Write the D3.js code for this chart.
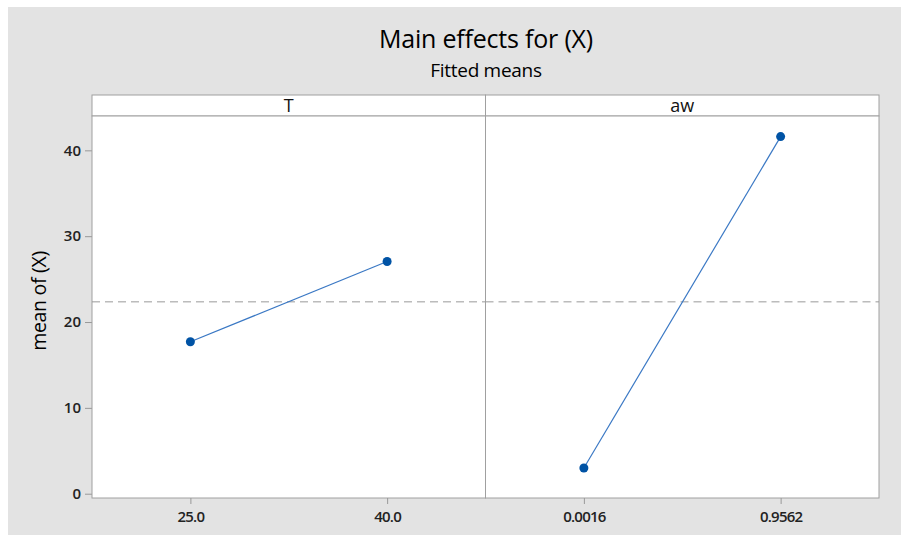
<!DOCTYPE html>
<html>
<head>
<meta charset="utf-8">
<script src="https://cdn.jsdelivr.net/npm/d3@7"></script>
<style>
  html, body { margin: 0; padding: 0; background: #fff; }
  svg { display: block; font-family: "Open Sans", "Noto Sans", sans-serif; }
</style>
</head>
<body>
<svg id="chart" width="901" height="535"></svg>
<script>
// data
var factors = ['T', 'aw'];
var levels = [['25.0', '40.0'], ['0.0016', '0.9562']];
var means = [[17.7, 27.05], [3.0, 41.6]];
var grandMean = 22.35;
var yTicks = [0, 10, 20, 30, 40];

var svg = d3.select('#chart');
var left = 92, right = 879;
var headTop = 95, plotTop = 116, plotBottom = 498;
var panelW = (right - left) / factors.length;

// gray page with a thin white edge top / left
svg.append('rect')
    .attr('x', 8).attr('y', 7)
    .attr('width', 893).attr('height', 528)
    .attr('fill', '#e3e3e3');

svg.append('text')
    .attr('x', 486).attr('y', 48)
    .attr('text-anchor', 'middle')
    .attr('font-size', 25)
    .attr('font-weight', 500)
    .attr('letter-spacing', -0.2)
    .attr('fill', '#000')
    .text('Main effects for (X)');

svg.append('text')
    .attr('x', 486).attr('y', 77)
    .attr('text-anchor', 'middle')
    .attr('font-size', 19)
    .attr('font-weight', 500)
    .attr('letter-spacing', -0.3)
    .attr('fill', '#000')
    .text('Fitted means');

var y = d3.scaleLinear().domain([-0.5, 44]).range([plotBottom, plotTop]);

// y axis
var yAxis = svg.append('g')
    .attr('transform', `translate(${left},0)`)
    .call(d3.axisLeft(y).tickValues(yTicks).tickSize(7).tickPadding(4));
yAxis.select('.domain').remove();
yAxis.selectAll('line').attr('stroke', '#999');
yAxis.selectAll('text')
    .attr('font-family', '"Open Sans", sans-serif')
    .attr('font-size', 15)
    .attr('font-weight', 600)
    .attr('fill', '#222');

svg.append('text')
    .attr('transform', `translate(46,${(plotTop + plotBottom) / 2 - 6}) rotate(-90)`)
    .attr('text-anchor', 'middle')
    .attr('font-size', 19.5)
    .attr('letter-spacing', -0.3)
    .attr('fill', '#000')
    .text('mean of (X)');

factors.forEach(function (f, i) {
    var x0 = left + i * panelW;
    var g = svg.append('g');

    // header strip and plot area
    g.append('rect')
        .attr('x', x0).attr('y', headTop)
        .attr('width', panelW).attr('height', plotTop - headTop)
        .attr('fill', '#fff').attr('stroke', '#a0a0a0');
    g.append('rect')
        .attr('x', x0).attr('y', plotTop)
        .attr('width', panelW).attr('height', plotBottom - plotTop)
        .attr('fill', '#fff').attr('stroke', '#a0a0a0');

    g.append('text')
        .attr('x', x0 + panelW / 2).attr('y', headTop + 17)
        .attr('text-anchor', 'middle')
        .attr('font-size', 18)
        .attr('fill', '#111')
        .text(f);

    var x = d3.scalePoint().domain(levels[i]).range([x0, x0 + panelW]).padding(0.5);

    var xAxis = g.append('g')
        .attr('transform', `translate(0,${plotBottom})`)
        .call(d3.axisBottom(x).tickSize(6).tickPadding(7));
    xAxis.select('.domain').remove();
    xAxis.selectAll('line').attr('stroke', '#999');
    xAxis.selectAll('text')
        .attr('font-family', '"Open Sans", sans-serif')
        .attr('font-size', 15)
        .attr('font-weight', 600)
        .attr('letter-spacing', -0.8)
        .attr('fill', '#222');

    // reference line at the grand mean
    g.append('line')
        .attr('x1', x0).attr('x2', x0 + panelW)
        .attr('y1', y(grandMean)).attr('y2', y(grandMean))
        .attr('stroke', '#999')
        .attr('stroke-dasharray', '8,5');

    var pts = levels[i].map(function (l, j) { return { l: l, v: means[i][j] }; });

    g.append('path')
        .datum(pts)
        .attr('fill', 'none')
        .attr('stroke', '#3a78c4')
        .attr('stroke-width', 1.2)
        .attr('d', d3.line().x(function (d) { return x(d.l); }).y(function (d) { return y(d.v); }));

    g.selectAll('circle')
        .data(pts)
        .enter()
        .append('circle')
            .attr('cx', function (d) { return x(d.l); })
            .attr('cy', function (d) { return y(d.v); })
            .attr('r', 4.5)
            .attr('fill', '#0053a5');
});
</script>
</body>
</html>
